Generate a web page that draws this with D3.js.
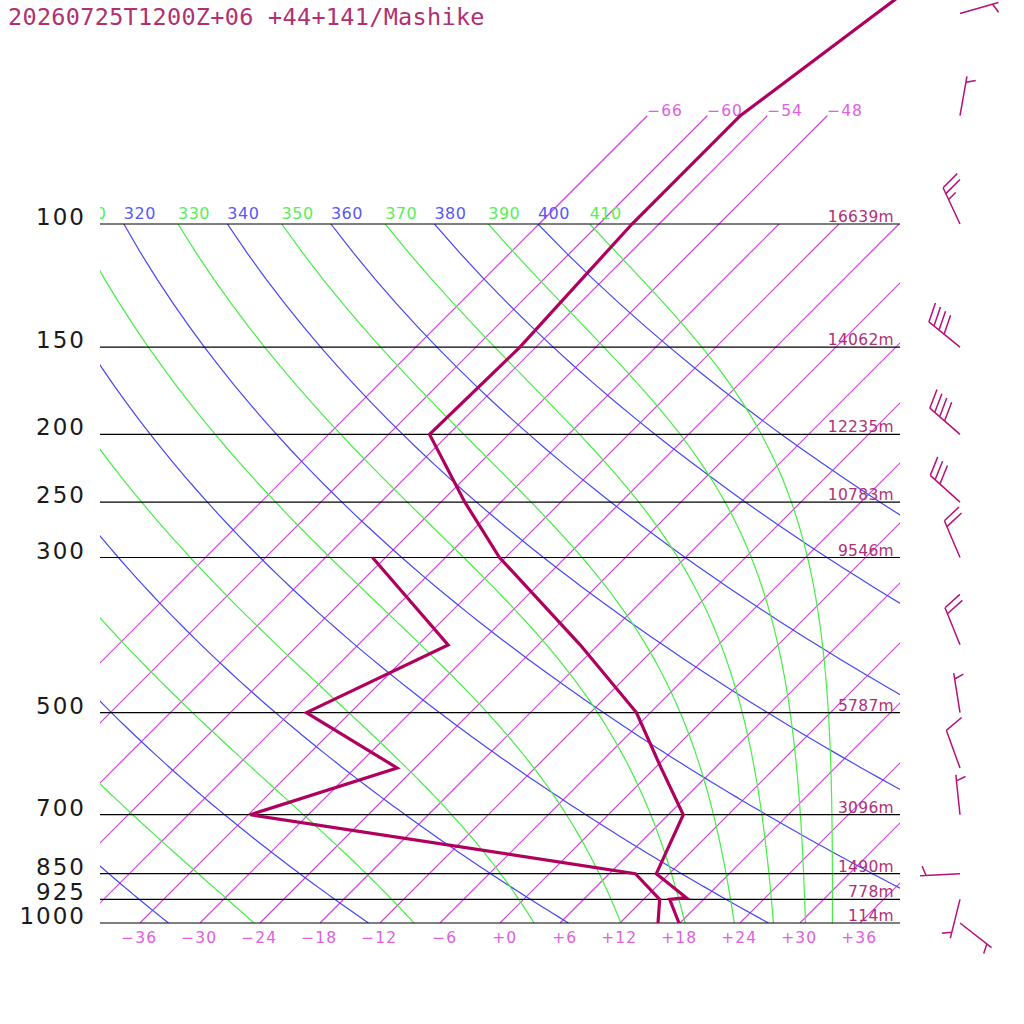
<!DOCTYPE html>
<html>
<head>
<meta charset="utf-8">
<script src="https://cdn.jsdelivr.net/npm/d3@7"></script>
<style>
  body { margin: 0; background: #fff; }
  svg { display: block; }
  text { font-family: "DejaVu Sans", sans-serif; }
</style>
</head>
<body>
<script>
const title = "20260725T1200Z+06 +44+141/Mashike";

// sounding, hPa / degC / deg / kt
const levels = [1000, 925, 920, 850, 700, 600, 500, 400, 300, 250, 200, 150, 100, 70, 50, 30];
const temps = [17.9, 14.6, 16.1, 10.7, 7.5, 0.6, -7.4, -19.8, -36.6, -45.6, -55.9, -55.6, -56.7, -56.7, -53.3, -48.2];
const dewpoints = [15.8, 13.6, null, 8.6, -35.8, -25.8, -40.4, -33.0, -49.3, null, null, null, null, null, null, null];
const windDir = [128, 194, null, 267, 354, 340, 351, 338, 337, 312, 311, 309, 335, 10, 74, null];
const windKt = [5, 5, null, 5, 5, 10, 5, 20, 20, 30, 40, 40, 25, 5, 5, null];

// isobars and their heights
const isobars = [1000, 925, 850, 700, 500, 300, 250, 200, 150, 100];
const heights = ["114m", "778m", "1490m", "3096m", "5787m", "9546m", "10783m", "12235m", "14062m", "16639m"];

// background lines
const tempTicks = [-36, -30, -24, -18, -12, -6, 0, 6, 12, 18, 24, 30, 36];
const isotherms = [-66, -60, -54, -48, -42, -36, -30, -24, -18, -12, -6, 0, 6, 12, 18, 24, 30, 36];
const labeledIsotherms = [-66, -60, -54, -48];
const dryAdiabats = [240, 260, 280, 300, 320, 340, 360, 380, 400];
const moistAdiabats = [250, 270, 290, 310, 330, 350, 370, 390, 410];

const width = 1024;
const height = 1024;
const plotLeft = 100, plotRight = 900, plotTop = 224, plotBottom = 923;

const y = d3.scaleLog().domain([1000, 100]).range([plotBottom, plotTop]);
const t = d3.scaleLinear().domain([-40, 40]).range([plotLeft, plotRight]);
const skewX = (temp, p) => t(temp) + (y(1000) - y(p));

const dryT = (th, p) => th * Math.pow(p / 1000, 0.286) - 273.15;

// Bolton theta-e of saturated air
function thetaE(tK, p) {
  const tc = tK - 273.15;
  const es = 6.112 * Math.exp((17.67 * tc) / (tc + 243.5));
  if (es > 0.5 * p) return Infinity;
  const r = (622 * es) / (p - es);
  return tK * Math.pow(1000 / p, 0.2854 * (1 - 0.00028 * r)) *
    Math.exp((3.376 / tK - 0.00254) * r * (1 + 0.00081 * r));
}
function moistT(te, p) {
  let lo = 150, hi = 340;
  for (let i = 0; i < 60; i++) {
    const mid = (lo + hi) / 2;
    if (thetaE(mid, p) > te) hi = mid;
    else lo = mid;
  }
  return (lo + hi) / 2 - 273.15;
}

const isoColor = "#cc44d4";
const dryColor = "#4646f4";
const moistColor = "#46ee46";

const svg = d3.select("body").append("svg").attr("width", width).attr("height", height);

const defs = svg.append("defs");
defs.append("clipPath").attr("id", "plot").append("rect")
  .attr("x", plotLeft).attr("y", plotTop)
  .attr("width", plotRight - plotLeft).attr("height", plotBottom - plotTop);
defs.append("clipPath").attr("id", "toplabels").append("rect")
  .attr("x", plotLeft).attr("y", 190)
  .attr("width", plotRight - plotLeft).attr("height", plotTop - 190);

const line = d3.line().x((d) => skewX(d[0], d[1])).y((d) => y(d[1]));
const pSteps = d3.range(1000, 99, -10);

const grid = svg.append("g").attr("clip-path", "url(#plot)").attr("fill", "none");

// isotherms
grid.selectAll("line.iso")
  .data(isotherms)
  .join("line")
  .attr("class", "iso")
  .attr("x1", (d) => skewX(d, 1000)).attr("y1", y(1000))
  .attr("x2", (d) => skewX(d, 100)).attr("y2", y(100))
  .attr("stroke", isoColor).attr("stroke-width", 1.2);

// dry adiabats
grid.selectAll("path.dry")
  .data(dryAdiabats)
  .join("path")
  .attr("class", "dry")
  .attr("d", (th) => line(pSteps.map((p) => [dryT(th, p), p])))
  .attr("stroke", dryColor).attr("stroke-width", 1.2);

// moist adiabats
grid.selectAll("path.moist")
  .data(moistAdiabats)
  .join("path")
  .attr("class", "moist")
  .attr("d", (te) => line(pSteps.map((p) => [moistT(te, p), p])))
  .attr("stroke", moistColor).attr("stroke-width", 1.2);

// isotherms carried above 100 hPa
svg.selectAll("line.isotop")
  .data(labeledIsotherms)
  .join("line")
  .attr("class", "isotop")
  .attr("x1", (d) => skewX(d, 100)).attr("y1", y(100))
  .attr("x2", (d) => skewX(d, 70)).attr("y2", y(70))
  .attr("stroke", isoColor).attr("stroke-width", 1.2);

const signed = (v) => (v < 0 ? "\u2212" + Math.abs(v) : "+" + v);

svg.selectAll("text.isotop")
  .data(labeledIsotherms)
  .join("text")
  .attr("class", "isotop")
  .attr("x", (d) => skewX(d, 70))
  .attr("y", y(70))
  .attr("font-size", 15.5)
  .attr("letter-spacing", 1)
  .attr("fill", "#e060e0")
  .text((d) => signed(d));

// theta / theta-e labels along 100 hPa (only those reaching into the plot)
const thetaLabels = dryAdiabats.map((th) => ({ v: th, x: skewX(dryT(th, 100), 100), c: "#5858f4" }))
  .concat(moistAdiabats.map((te) => ({ v: te, x: skewX(moistT(te, 100), 100), c: "#58ee58" })))
  .filter((d) => d.x > plotLeft - 32);

svg.append("g")
  .attr("clip-path", "url(#toplabels)")
  .selectAll("text")
  .data(thetaLabels)
  .join("text")
  .attr("x", (d) => d.x)
  .attr("y", 218.5)
  .attr("font-size", 16)
  .attr("letter-spacing", 0.5)
  .attr("fill", (d) => d.c)
  .text((d) => d.v);

// isobars
svg.selectAll("line.isobar")
  .data(isobars)
  .join("line")
  .attr("class", "isobar")
  .attr("x1", plotLeft).attr("x2", plotRight)
  .attr("y1", (d) => y(d)).attr("y2", (d) => y(d))
  .attr("stroke", "#000").attr("stroke-width", 1.2);

svg.selectAll("text.plabel")
  .data(isobars)
  .join("text")
  .attr("class", "plabel")
  .attr("x", 86)
  .attr("y", (d) => y(d) + 1)
  .attr("text-anchor", "end")
  .attr("font-size", 23)
  .attr("letter-spacing", 2)
  .attr("fill", "#1a1a1a")
  .text((d) => d);

svg.selectAll("text.hlabel")
  .data(isobars)
  .join("text")
  .attr("class", "hlabel")
  .attr("x", 894)
  .attr("y", (d) => y(d) - 2)
  .attr("text-anchor", "end")
  .attr("font-size", 15.5)
  .attr("letter-spacing", 0.3)
  .attr("fill", "#b03078")
  .text((d, i) => heights[i]);

// temperature axis labels
svg.selectAll("text.tlabel")
  .data(tempTicks)
  .join("text")
  .attr("class", "tlabel")
  .attr("x", (d) => t(d) + 17)
  .attr("y", 943)
  .attr("text-anchor", "end")
  .attr("font-size", 15.5)
  .attr("letter-spacing", 1)
  .attr("fill", "#e060e0")
  .text((d) => signed(d));

// profiles
const profileColor = "#b0005e";
svg.append("path")
  .datum(levels.map((p, i) => [temps[i], p]))
  .attr("d", line)
  .attr("fill", "none")
  .attr("stroke", profileColor)
  .attr("stroke-width", 3.2);

svg.append("path")
  .datum(levels.map((p, i) => [dewpoints[i], p]).filter((d) => d[0] !== null))
  .attr("d", line)
  .attr("fill", "none")
  .attr("stroke", profileColor)
  .attr("stroke-width", 3.2);

// wind barbs
const barbs = svg.append("g")
  .attr("stroke", "#b8107a")
  .attr("stroke-width", 1.5)
  .attr("fill", "none");

const staff = 40, full = 20, half = 10, step = 6.5;
const tilt = (70 * Math.PI) / 180;

levels.forEach((p, i) => {
  if (windDir[i] === null) return;
  const a = (windDir[i] * Math.PI) / 180;
  const ux = Math.sin(a), uy = -Math.cos(a);
  const bx = Math.cos(tilt) * ux + Math.sin(tilt) * -uy;
  const by = Math.cos(tilt) * uy + Math.sin(tilt) * ux;
  const x0 = 960, y0 = y(p);
  const path = d3.path();
  path.moveTo(x0, y0);
  path.lineTo(x0 + staff * ux, y0 + staff * uy);
  let speed = windKt[i];
  let pos = speed < 10 ? staff - 6 : staff;
  while (speed >= 10) {
    const sx = x0 + pos * ux, sy = y0 + pos * uy;
    path.moveTo(sx, sy);
    path.lineTo(sx + full * bx, sy + full * by);
    pos -= step;
    speed -= 10;
  }
  if (speed >= 5) {
    const sx = x0 + pos * ux, sy = y0 + pos * uy;
    path.moveTo(sx, sy);
    path.lineTo(sx + half * bx, sy + half * by);
  }
  barbs.append("path").attr("d", path.toString());
});

svg.append("text")
  .attr("x", 8)
  .attr("y", 25)
  .style("font-family", "'DejaVu Sans Mono', monospace")
  .attr("font-size", 23.5)
  .attr("letter-spacing", 0.3)
  .attr("fill", "#b03070")
  .text(title);
</script>
</body>
</html>
